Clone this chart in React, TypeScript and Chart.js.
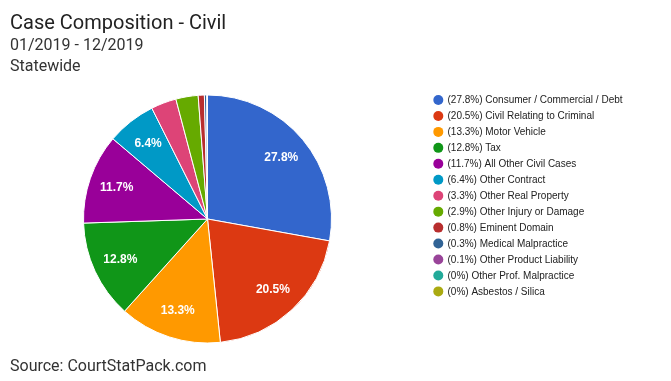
import React, { useEffect, useRef } from "react";
import { Chart, registerables } from "chart.js";

Chart.register(...registerables);

const categories = [
  "Consumer / Commercial / Debt",
  "Civil Relating to Criminal",
  "Motor Vehicle",
  "Tax",
  "All Other Civil Cases",
  "Other Contract",
  "Other Real Property",
  "Other Injury or Damage",
  "Eminent Domain",
  "Medical Malpractice",
  "Other Product Liability",
  "Other Prof. Malpractice",
  "Asbestos / Silica",
];
const percentLabels = ["27.8%", "20.5%", "13.3%", "12.8%", "11.7%", "6.4%", "3.3%", "2.9%", "0.8%", "0.3%", "0.1%", "0%", "0%"];
const values = [27.8, 20.5, 13.3, 12.8, 11.7, 6.4, 3.3, 2.9, 0.8, 0.3, 0.1, 0, 0];
const colors = [
  "#3366cc", "#dc3912", "#ff9900", "#109618", "#990099", "#0099c6",
  "#dd4477", "#66aa00", "#b82e2e", "#316395", "#994499", "#22aa99", "#aaaa11",
];
const titleText = "Case Composition - Civil";
const subtitleLines = ["01/2019 - 12/2019", "Statewide"];
const sourceText = "Source: CourtStatPack.com";

const FONT = "Roboto, 'Noto Sans', Arial, sans-serif";
const ARIAL = "Arial, 'Liberation Sans', sans-serif";

const overlayPlugin = {
  id: "overlay",
  afterDraw(chart: any) {
    const ctx = chart.ctx as CanvasRenderingContext2D;
    ctx.save();
    // Title & subtitles
    ctx.textAlign = "left";
    ctx.textBaseline = "alphabetic";
    ctx.fillStyle = "#222222";
    ctx.font = `20px ${FONT}`;
    ctx.fillText(titleText, 10, 29);
    ctx.fillStyle = "#333333";
    ctx.font = `16px ${FONT}`;
    ctx.fillText(subtitleLines[0], 10, 50);
    ctx.fillText(subtitleLines[1], 10, 71);
    ctx.fillText(sourceText, 10, 371);

    // Legend
    ctx.font = `10px ${ARIAL}`;
    ctx.textBaseline = "middle";
    categories.forEach((c, i) => {
      const y = 100 + i * 15.95;
      ctx.beginPath();
      ctx.arc(438.3, y, 5, 0, Math.PI * 2);
      ctx.fillStyle = colors[i];
      ctx.fill();
      ctx.fillStyle = "#222222";
      ctx.fillText(`(${percentLabels[i]}) ${c}`, 447.5, y + 0.5);
    });

    // Slice labels
    const meta = chart.getDatasetMeta(0);
    ctx.font = `bold 12px ${ARIAL}`;
    ctx.textAlign = "center";
    ctx.textBaseline = "middle";
    ctx.fillStyle = "#ffffff";
    meta.data.forEach((arc: any, i: number) => {
      if (values[i] < 5) return;
      const p = arc.getProps(["x", "y", "startAngle", "endAngle", "outerRadius"], true);
      const mid = (p.startAngle + p.endAngle) / 2;
      const d = p.outerRadius * 0.775;
      ctx.fillText(percentLabels[i], p.x + Math.cos(mid) * d, p.y + Math.sin(mid) * d);
    });
    ctx.restore();
  },
};

export default function App() {
  const ref = useRef<HTMLCanvasElement | null>(null);
  useEffect(() => {
    if (!ref.current) return;
    const chart = new Chart(ref.current, {
      type: "pie",
      data: {
        labels: categories,
        datasets: [
          {
            data: values,
            backgroundColor: colors,
            borderColor: "#ffffff",
            borderWidth: 1,
          },
        ],
      },
      options: {
        responsive: false,
        animation: false,
        layout: { padding: { left: 83, right: 339, top: 94.5, bottom: 37.5 } },
        plugins: {
          legend: { display: false },
          tooltip: { enabled: false },
        },
      },
      plugins: [overlayPlugin],
    });
    return () => chart.destroy();
  }, []);
  return (
    <div style={{ position: "absolute", left: 0, top: 0, width: 671, height: 381, background: "#fff" }}>
      <canvas ref={ref} width={671} height={381} style={{ width: 671, height: 381 }} />
    </div>
  );
}
